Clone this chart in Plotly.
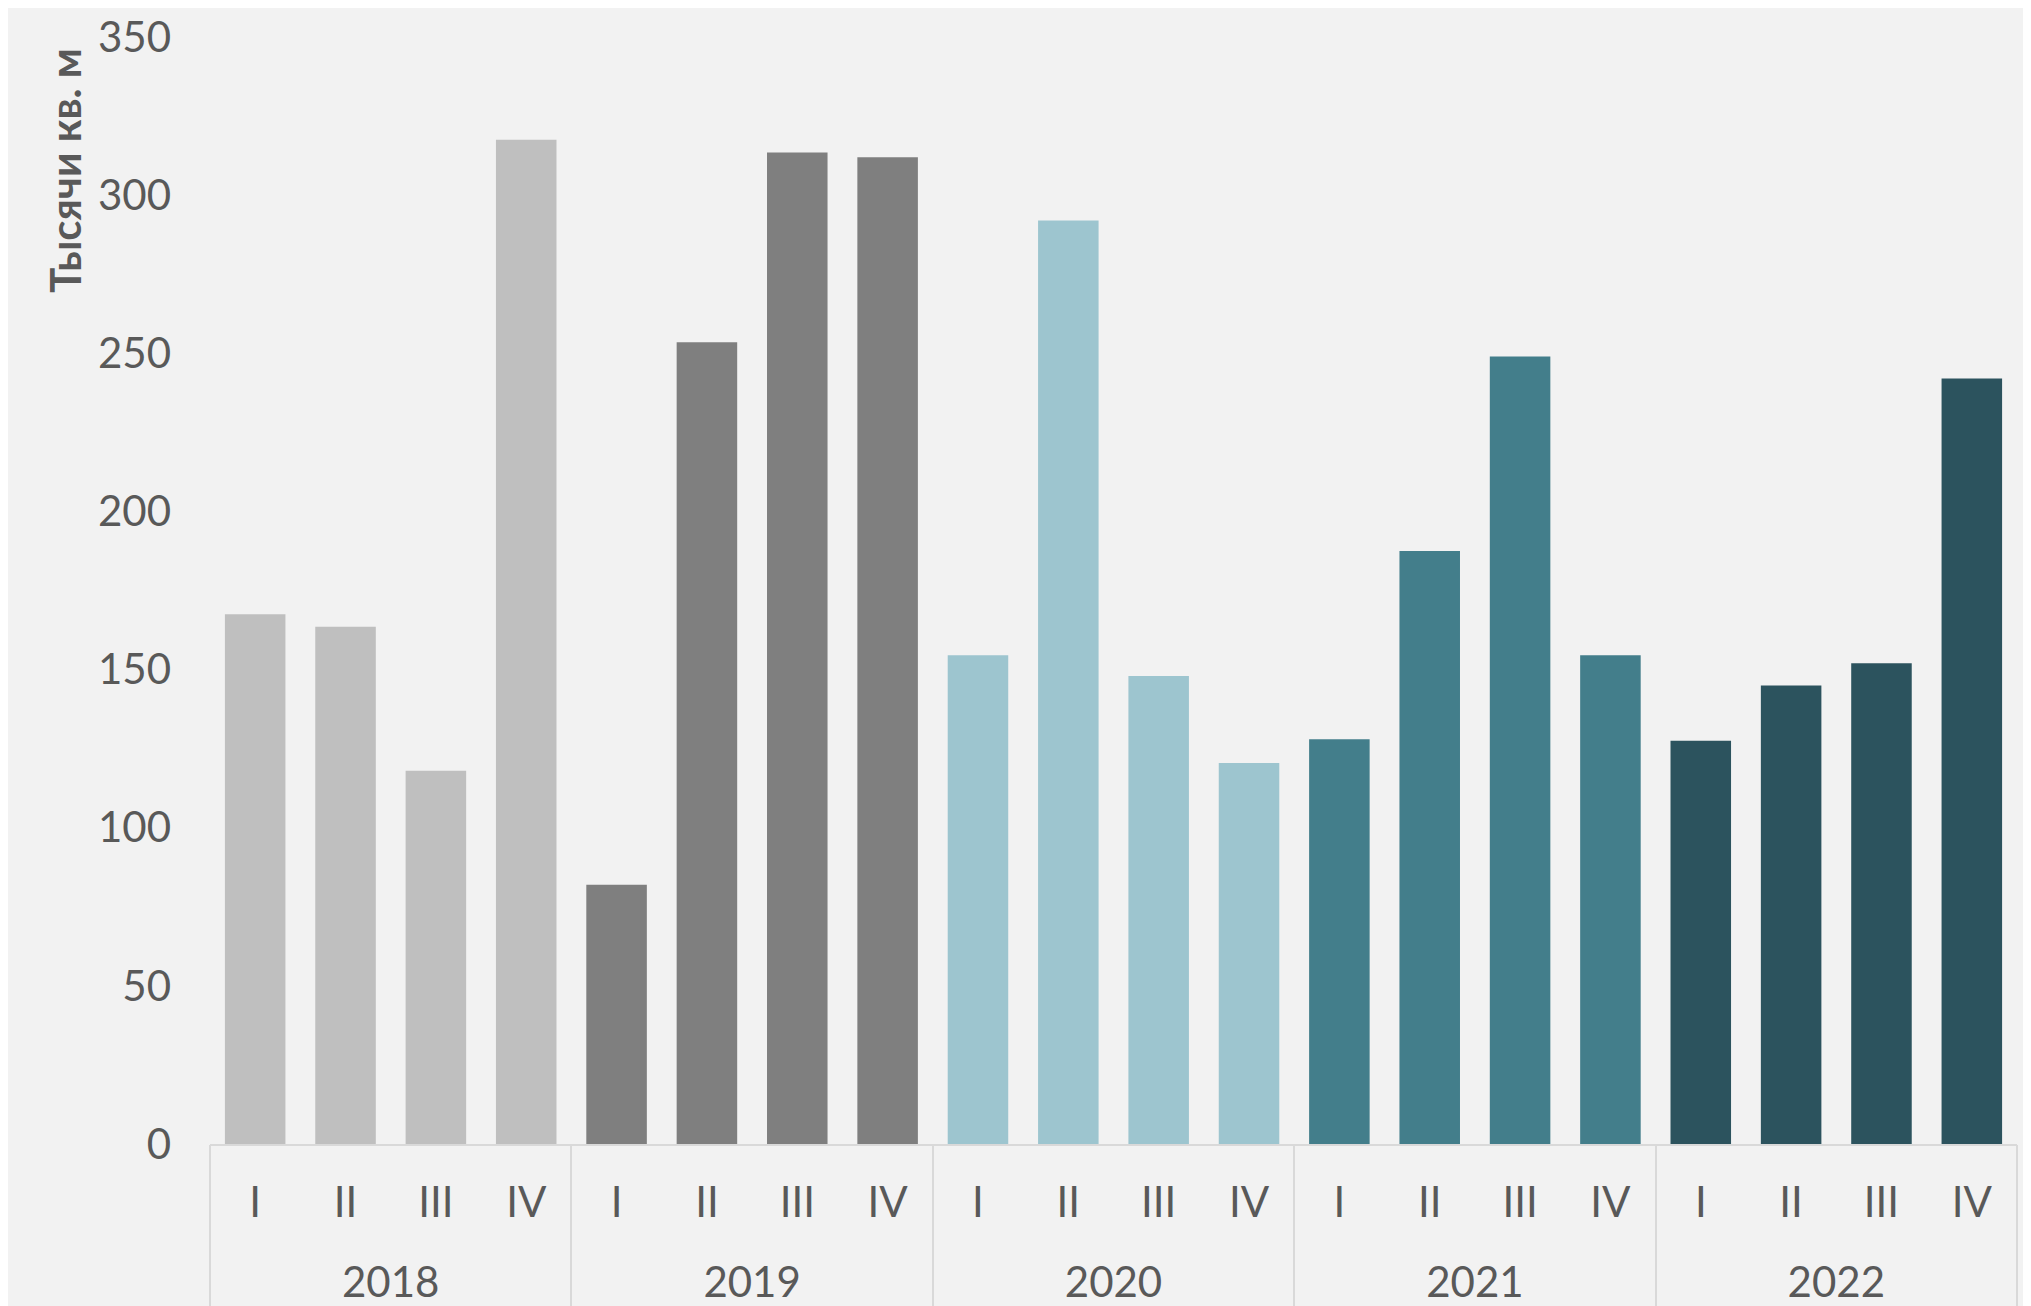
import plotly.graph_objects as go

years = ["2018", "2019", "2020", "2021", "2022"]
quarters = ["I", "II", "III", "IV"]
values = [
    [167.5, 163.5, 118.0, 317.5],
    [82.0, 253.5, 313.5, 312.0],
    [154.5, 292.0, 148.0, 120.5],
    [128.0, 187.5, 249.0, 154.5],
    [127.5, 145.0, 152.0, 242.0],
]
year_colors = ["#bfbfbf", "#7f7f7f", "#9dc5cf", "#437e8b", "#2c535e"]
y_title = "Тысячи кв. м"

FONT = "Lato"
TXT = "#595959"
GRID = "#d9d9d9"

nq = len(quarters)
xs, y_vals, colors, qlabels = [], [], [], []
for gi, (vals, col) in enumerate(zip(values, year_colors)):
    for qi, (q, v) in enumerate(zip(quarters, vals)):
        xs.append(gi * nq + qi)
        y_vals.append(v)
        colors.append(col)
        qlabels.append(q)

n = len(xs)
year_centers = [gi * nq + (nq - 1) / 2 for gi in range(len(years))]
boundaries = [gi * nq - 0.5 for gi in range(len(years) + 1)]
xr = [-0.5, n - 0.5]

fig = go.Figure(go.Bar(x=xs, y=y_vals, marker=dict(color=colors, line=dict(width=0)),
                       hoverinfo="y"))
# invisible helper traces so the overlay axes (year labels / dividers) are drawn
fig.add_trace(go.Scatter(x=year_centers, y=[0] * len(year_centers), xaxis="x2",
                         mode="none", hoverinfo="skip", showlegend=False))
fig.add_trace(go.Scatter(x=boundaries, y=[0] * len(boundaries), xaxis="x3",
                         mode="none", hoverinfo="skip", showlegend=False))

fig.update_layout(
    width=2031, height=1306,
    paper_bgcolor="#f2f2f2", plot_bgcolor="#f2f2f2",
    margin=dict(l=202, r=22, t=29, b=170),
    bargap=0.33,
    showlegend=False,
    font=dict(family=FONT, color=TXT, size=42),
    xaxis=dict(
        range=xr, tickmode="array", tickvals=xs, ticktext=qlabels,
        showline=True, linecolor=GRID, linewidth=2, showgrid=False, zeroline=False,
        ticks="", ticklabelstandoff=21, automargin=False,
        tickfont=dict(family=FONT, size=42, color=TXT),
    ),
    xaxis2=dict(
        overlaying="x", anchor="y", side="bottom", range=xr,
        tickmode="array", tickvals=year_centers, ticktext=years,
        showline=False, showgrid=False, zeroline=False, ticks="",
        ticklabelstandoff=110, automargin=False,
        tickfont=dict(family=FONT, size=42, color=TXT),
    ),
    xaxis3=dict(
        overlaying="x", anchor="y", side="bottom", range=xr,
        tickmode="array", tickvals=boundaries, showticklabels=False,
        showline=False, showgrid=False, zeroline=False, automargin=False,
        ticks="outside", ticklen=180, tickwidth=2, tickcolor=GRID,
    ),
    yaxis=dict(
        range=[0, 350], dtick=50, showgrid=False, zeroline=False, showline=False,
        tickfont=dict(family=FONT, size=42, color=TXT), automargin=False,
        ticks="", ticklabelstandoff=38, ticklabeloverflow="allow",
    ),
)
fig.add_annotation(
    text="<b>" + y_title + "</b>", textangle=-90,
    xref="paper", yref="paper", x=-0.080, y=0.992, xanchor="center", yanchor="top",
    showarrow=False, font=dict(family=FONT, size=42, color=TXT),
)
fig.write_html("out.html")
